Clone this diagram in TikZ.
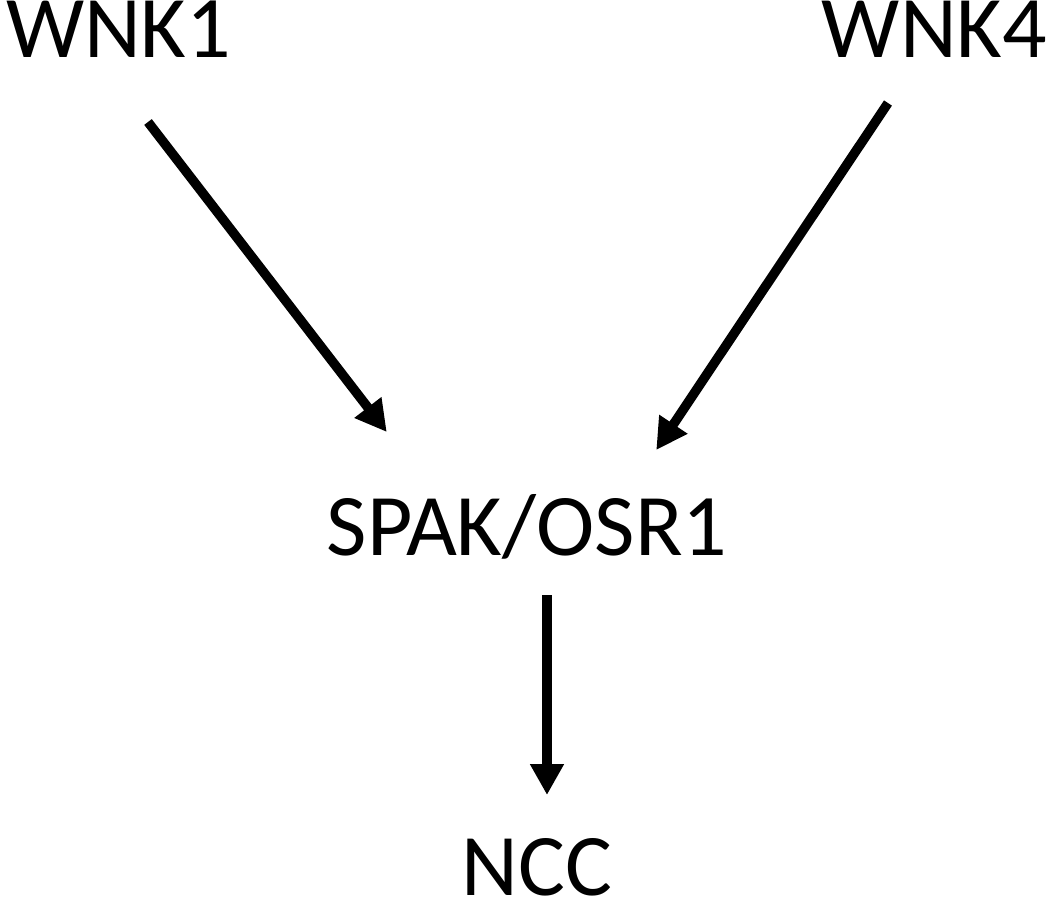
\documentclass[tikz,border=0pt]{standalone}
\usepackage{fontspec}
\setmainfont{Carlito}
\usetikzlibrary{arrows.meta,positioning,calc}

\begin{document}
\begin{tikzpicture}[
  font=\fontsize{25}{30}\selectfont,
  prot/.style={inner sep=0pt, outer sep=0pt},
  link/.style={line width=0.95mm, -{Triangle[length=3.1mm, width=3.2mm]}},
]
  \useasboundingbox (0,0) rectangle (10.5,-9);

  \node[prot, anchor=base west] (wnk1) at (0.06,-0.57) {WNK1};
  \node[prot, anchor=base east] (wnk4) at (10.47,-0.57) {WNK4};
  \node[prot, anchor=base] (spak) at (5.27,-5.55) {SPAK/OSR1};
  \node[prot, anchor=base] (ncc) at (5.37,-8.95) {NCC};

  \draw[link] ([shift={(1.42,-0.65)}]wnk1.base west) -- ([shift={(0.60,1.23)}]spak.base west);
  \draw[link] ([shift={(-1.59,-0.46)}]wnk4.base east) -- ([shift={(-0.71,1.05)}]spak.base east);
  \draw[link] ([shift={(0.20,-0.40)}]spak.base) -- ([shift={(0.10,1.00)}]ncc.base);
\end{tikzpicture}
\end{document}
